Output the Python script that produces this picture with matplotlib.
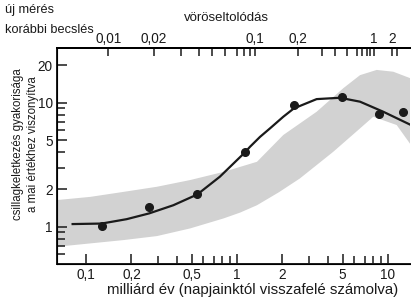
import matplotlib
matplotlib.use('Agg')
import matplotlib.pyplot as plt
from matplotlib.ticker import FixedLocator, NullFormatter

# measured points (billion years ago, relative star formation rate)
pt_t = [0.127, 0.262, 0.546, 1.13, 2.38, 4.93, 8.75, 12.6]
pt_v = [1.02, 1.45, 1.82, 3.98, 9.58, 11.06, 8.11, 8.37]

# fitted curve
curve_t = [0.0816, 0.127, 0.186, 0.262, 0.379, 0.546, 0.77, 1.13, 1.219, 1.42,
           1.654, 2.026, 2.38, 3.37, 4.81, 6.53, 9.31, 14.2]
curve_v = [1.05, 1.06, 1.15, 1.28, 1.49, 1.82, 2.53, 3.98, 4.41, 5.3,
           6.21, 7.71, 9.0, 10.7, 10.97, 10.2, 8.46, 6.61]

# earlier estimate (grey band), upper and lower edges
band_up_t = [0.0643, 0.1068, 0.1777, 0.2953, 0.4906, 0.817, 1.357, 2.026,
             3.37, 5.06, 6.53, 8.42, 10.84, 14.2]
band_up_v = [1.64, 1.74, 1.91, 2.10, 2.38, 2.77, 3.34, 5.49,
             8.46, 13.1, 16.7, 18.4, 17.8, 15.7]
band_lo_t = [0.0643, 0.1068, 0.1777, 0.2953, 0.4906, 0.817, 1.05, 1.357, 1.9,
             2.61, 4.34, 6.53, 7.99, 11.42, 14.2]
band_lo_v = [0.689, 0.733, 0.78, 0.84, 0.969, 1.167, 1.3, 1.49, 1.9,
             2.45, 4.02, 6.21, 7.71, 6.61, 4.56]

# axes ticks
x_major = [0.1, 0.2, 0.5, 1, 2, 5, 10]
x_labels = ['0,1', '0,2', '0,5', '1', '2', '5', '10']
x_minor = [0.3, 0.4, 0.6, 0.7, 0.8, 0.9, 3, 4, 6, 7, 8, 9]
y_major = [1, 2, 5, 10, 20]
y_labels = ['1', '2', '5', '10', '20']
y_minor = [0.6, 0.7, 0.8, 0.9, 3, 4, 6, 7, 8, 9]

# redshift scale on top: redshift -> lookback time where the tick sits
z_vals = [0.01, 0.02, 0.03, 0.04, 0.05, 0.06, 0.07, 0.08, 0.09, 0.1,
          0.2, 0.3, 0.4, 0.5, 0.6, 0.7, 0.8, 0.9, 1, 2, 3]
z_time = [0.1405, 0.282, 0.426, 0.563, 0.680, 0.833, 0.995, 1.112, 1.219, 1.316,
          2.547, 3.64, 4.46, 5.33, 6.21, 6.70, 7.23, 7.60, 8.07, 10.58, 11.43]
z_labeled = {0.01: '0,01', 0.02: '0,02', 0.1: '0,1', 0.2: '0,2', 1: '1', 2: '2'}

plt.rcParams['font.family'] = ['Liberation Sans Narrow', 'Liberation Sans', 'DejaVu Sans']
ink = '#1a1a1a'

fig = plt.figure(figsize=(4.11, 2.97), dpi=100)
ax = fig.add_axes([57 / 411, 33 / 297, 353 / 411, 215.7 / 297])

ax.fill(band_up_t + band_lo_t[::-1], band_up_v + band_lo_v[::-1],
        color='#d2d2d2', lw=0, zorder=1)
ax.plot(curve_t, curve_v, color=ink, lw=1.6, zorder=3)
ax.plot(pt_t, pt_v, 'o', color=ink, ms=5.5, zorder=4)

ax.set_xscale('log')
ax.set_yscale('log')
ax.set_xlim(0.0643, 13.99)
ax.set_ylim(0.5, 27.5)

ax.xaxis.set_major_locator(FixedLocator(x_major))
ax.set_xticklabels(x_labels)
ax.xaxis.set_minor_locator(FixedLocator(x_minor))
ax.xaxis.set_minor_formatter(NullFormatter())
ax.yaxis.set_major_locator(FixedLocator(y_major))
ax.set_yticklabels(y_labels)
ax.yaxis.set_minor_locator(FixedLocator(y_minor))
ax.yaxis.set_minor_formatter(NullFormatter())

ax.tick_params(which='both', direction='in', colors=ink, width=1.1, labelsize=9.8)
ax.tick_params(which='major', length=7)
ax.tick_params(which='minor', length=6)
ax.tick_params(axis='x', pad=3)
ax.tick_params(axis='y', pad=3)

for side in ['left', 'bottom', 'top']:
    ax.spines[side].set_color(ink)
    ax.spines[side].set_linewidth(1.4)
ax.spines['right'].set_visible(False)

top = ax.twiny()
top.set_xscale('log')
top.set_xlim(ax.get_xlim())
top.xaxis.set_major_locator(FixedLocator(z_time))
top.set_xticklabels([z_labeled.get(z, '') for z in z_vals])
top.xaxis.set_minor_locator(FixedLocator([]))
top.tick_params(which='both', direction='in', length=6, width=1.1, colors=ink,
                labelsize=9.8, pad=2)
top.spines['right'].set_visible(False)
top.spines['top'].set_linewidth(1.4)

fig.text(253 / 411, 1 - 290 / 297, 'milliárd év (napjainktól visszafelé számolva)',
         ha='center', va='center', fontsize=10.8, color=ink)
fig.text(25.5 / 411, 1 - 144 / 297, 'csillagkeletkezés gyakorisága\na mai értékhez viszonyítva',
         rotation=90, ha='center', va='center', fontsize=8.3, color=ink,
         linespacing=1.3)
fig.text(226 / 411, 1 - 18 / 297, 'vöröseltolódás', ha='center', va='center',
         fontsize=9.5, color=ink)
fig.text(5 / 411, 1 - 10 / 297, 'új mérés', ha='left', va='center',
         fontsize=9.2, color=ink)
fig.text(5 / 411, 1 - 30 / 297, 'korábbi becslés', ha='left', va='center',
         fontsize=9.2, color=ink)

fig.savefig('out.png', dpi=100)
